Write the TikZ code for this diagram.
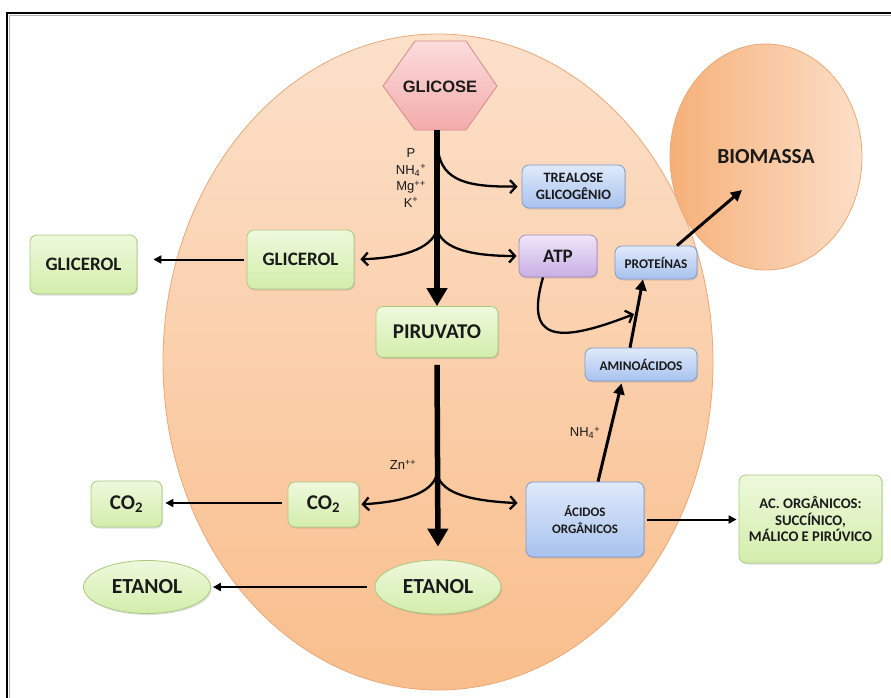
\documentclass[tikz,border=0pt]{standalone}
\usepackage{fontspec}
\setmainfont{Carlito}
\newfontfamily\arialf{Liberation Sans}
\usetikzlibrary{arrows.meta,shapes.geometric,shadows}
\definecolor{gtop}{HTML}{EEF9DC}
\definecolor{gbot}{HTML}{D3EDAB}
\definecolor{gborder}{HTML}{A9C97F}
\definecolor{btop}{HTML}{DFEAFB}
\definecolor{bbot}{HTML}{A8C2EE}
\definecolor{bborder}{HTML}{7D9BD0}
\definecolor{ptop}{HTML}{EFE5F8}
\definecolor{pbot}{HTML}{C8AFE3}
\definecolor{pborder}{HTML}{A189C4}
\definecolor{htop}{HTML}{FCDCDC}
\definecolor{hbot}{HTML}{F3ABAB}
\definecolor{hborder}{HTML}{D48A8A}
\definecolor{celltop}{HTML}{FCE0CA}
\definecolor{cellbot}{HTML}{F9BE8C}
\definecolor{cellborder}{HTML}{E9A876}
\definecolor{bioleft}{HTML}{F6B078}
\definecolor{bioright}{HTML}{FCDFC8}
\definecolor{txt}{HTML}{1A1A1A}
\begin{document}
\begin{tikzpicture}[x=1pt,y=-1pt,
  box/.style={rounded corners=7pt, line width=0.8pt, align=center, inner sep=0pt, text=txt,
    drop shadow={opacity=0.25, shadow xshift=1.2pt, shadow yshift=-1.5pt}},
  greenbox/.style={box, draw=gborder, top color=gtop, bottom color=gbot},
  bluebox/.style={box, draw=bborder, top color=btop, bottom color=bbot},
  purplebox/.style={box, draw=pborder, top color=ptop, bottom color=pbot},
  greenell/.style={greenbox, ellipse, sharp corners},
  lab/.style={text=txt, inner sep=0pt},
  barb/.style={line width=2.3pt, -{Straight Barb[length=6pt,width=13pt]}},
  extarrow/.style={line width=2pt, -{Triangle[length=8pt,width=8pt]}},
  medarrow/.style={line width=3pt, -{Triangle[length=11pt,width=11pt]}},
  mainarrow/.style={line width=5.5pt, -{Triangle[length=18pt,width=20pt]}}
]
\useasboundingbox (0,0) rectangle (891,697);
% frame
\draw[line width=1.5pt, black!30] (9.5,905) -- (9.5,15.5) -- (905,15.5);
\draw[line width=2.2pt] (7,905) -- (7,13) -- (905,13);
% cell
\shade[top color=celltop, bottom color=cellbot, draw=cellborder, line width=0.8pt]
  (438,362) ellipse [x radius=275, y radius=328];
% biomass
\node[ellipse, minimum width=192, minimum height=226, inner sep=0pt, left color=bioleft, right color=bioright,
  draw=cellborder, line width=0.8pt, text=txt, font=\fontsize{21.5}{24}\selectfont\bfseries] (bio) at (766,157) {BIOMASSA};
% glucose hexagon
\shade[top color=htop, bottom color=hbot, draw=hborder, line width=0.8pt]
  (383,86) -- (415,41) -- (466,41) -- (497,86) -- (466,130) -- (415,130) -- cycle;
\node[lab, font=\arialf\bfseries\fontsize{16.5}{19}\selectfont] (glicose) at (440,87) {GLICOSE};
\coordinate (gbot) at (437,130);
% nodes
\node[bluebox, minimum width=103, minimum height=43, font=\fontsize{14.3}{17}\selectfont\bfseries] (trea) at (573.5,186.5) {TREALOSE\\GLICOGÊNIO};
\node[greenbox, minimum width=107, minimum height=59, font=\fontsize{19}{22}\selectfont\bfseries] (glic) at (300.5,259.5) {GLICEROL};
\node[greenbox, minimum width=107, minimum height=59, font=\fontsize{19}{22}\selectfont\bfseries] (glicout) at (83.5,264.5) {GLICEROL};
\node[purplebox, minimum width=78, minimum height=42, font=\fontsize{19}{22}\selectfont\bfseries] (atp) at (558,256) {ATP};
\node[bluebox, minimum width=82, minimum height=33, font=\fontsize{13.3}{16}\selectfont\bfseries] (prot) at (656,262.5) {PROTEÍNAS};
\node[greenbox, minimum width=122, minimum height=51, font=\fontsize{21}{24}\selectfont\bfseries] (piru) at (437,332) {PIRUVATO};
\node[bluebox, minimum width=112, minimum height=33, font=\fontsize{13.3}{16}\selectfont\bfseries] (amino) at (641,364.5) {AMINOÁCIDOS};
\node[greenbox, minimum width=71, minimum height=45, font=\fontsize{21}{24}\selectfont\bfseries] (co2) at (323.5,504.5) {CO\textsubscript{2}};
\node[greenbox, minimum width=71, minimum height=46, font=\fontsize{21}{24}\selectfont\bfseries] (co2out) at (126.5,504) {CO\textsubscript{2}};
\node[bluebox, minimum width=118, minimum height=75, font=\fontsize{13}{17}\selectfont\bfseries] (acid) at (585,519.5) {ÁCIDOS\\ORGÂNICOS};
\node[greenbox, minimum width=143, minimum height=88, font=\fontsize{14.7}{16.5}\selectfont\bfseries] (acout) at (810.5,519) {AC. ORGÂNICOS:\\SUCCÍNICO,\\MÁLICO E PIRÚVICO};
\node[greenell, minimum width=126, minimum height=54, font=\fontsize{21.5}{24}\selectfont\bfseries] (etan) at (438,587) {ETANOL};
\node[greenell, minimum width=127, minimum height=53, font=\fontsize{21.5}{24}\selectfont\bfseries] (etanout) at (147,587) {ETANOL};
% labels
\node[lab, align=center, font=\arialf\fontsize{13}{16.5}\selectfont] (ions) at (411,178) {P\\NH\textsubscript{4}\textsuperscript{+}\\Mg\textsuperscript{++}\\K\textsuperscript{+}};
\node[lab, font=\arialf\fontsize{13}{16}\selectfont] (zn) at (403,465) {Zn\textsuperscript{++}};
\node[lab, font=\arialf\fontsize{13}{16}\selectfont] (nh) at (585,433) {NH\textsubscript{4}\textsuperscript{+}};
% coordinates
\coordinate (b1) at (438,150);
\coordinate (b2) at (437,229);
\coordinate (b3) at (437,474);
\coordinate (meet) at (634,314);
\coordinate (biotip) at (742,190);
% main arrows
\draw[mainarrow] (gbot) -- (piru.north);
\draw[mainarrow, shorten <=7pt, shorten >=13pt] (piru.south) -- (etan.north);
% branches
\draw[barb, shorten >=4pt] (b1) .. controls (442,182) and (470,187) .. (trea.west);
\draw[barb, shorten >=2pt] (b2) .. controls (442,250) and (475,256) .. (atp.west);
\draw[barb, shorten >=6pt] (b2) .. controls (432,250) and (399,258) .. (glic.east);
\draw[barb, shorten >=2pt] (b3) .. controls (432,495) and (399,502) .. (co2.east);
\draw[barb, shorten >=8pt] (b3) .. controls (442,495) and (475,501) .. ([yshift=16pt]acid.west);
% external arrows
\draw[extarrow, shorten <=3pt, shorten >=16pt] (glic.west) -- (glic.west -| glicout.east);
\draw[extarrow, shorten <=6pt, shorten >=3pt] ([yshift=1.5pt]co2.west) -- ([yshift=1.5pt]co2.west -| co2out.east);
\draw[extarrow, shorten <=8pt, shorten >=2pt] (etan.west) -- (etanout.east);
\draw[extarrow, shorten <=3pt, shorten >=2pt] (acid.east) -- (acid.east -| acout.west);
% amino acids / proteins
\draw[medarrow, shorten >=2pt] ([xshift=13pt]acid.north) -- ([xshift=-19pt]amino.south);
\draw[medarrow] ([xshift=-11pt]amino.north) -- ([xshift=-13pt]prot.south);
\draw[barb] ([xshift=-15pt]atp.south) .. controls (525,340) and (555,345) .. (meet);
\draw[medarrow] ([xshift=21pt]prot.north) -- (biotip);
\end{tikzpicture}
\end{document}
